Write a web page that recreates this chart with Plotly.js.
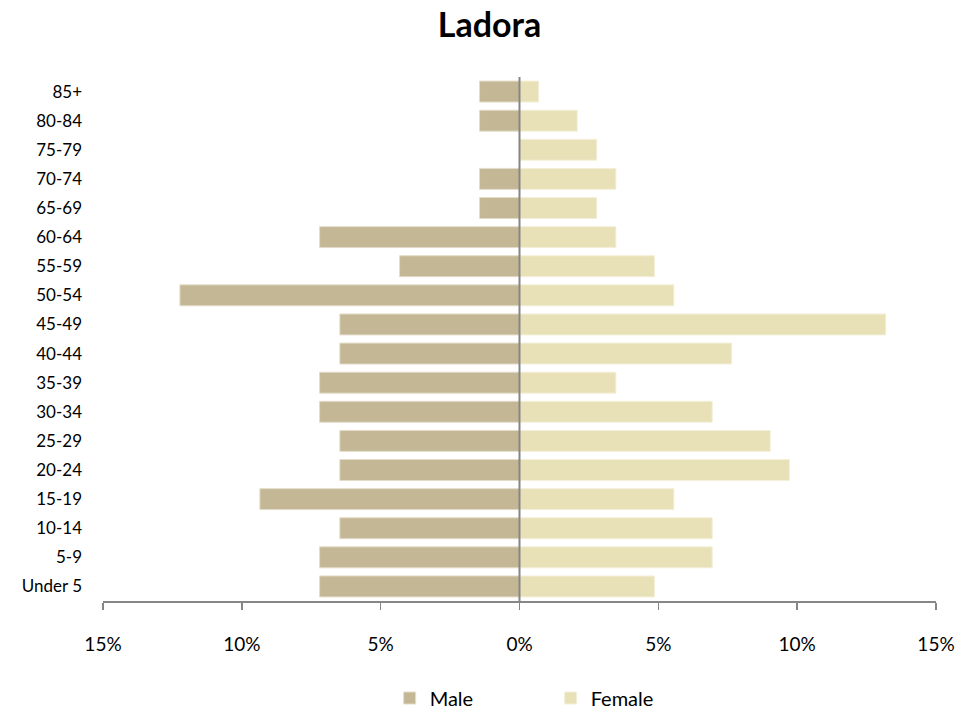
<!DOCTYPE html>
<html>
<head>
<meta charset="utf-8">
<script src="https://cdn.plot.ly/plotly-3.0.1.min.js"></script>
<style>html,body{margin:0;padding:0;background:#fff;}#chart{width:979px;height:713px;}</style>
</head>
<body>
<div id="chart"></div>
<script>
const ageGroups = ["Under 5","5-9","10-14","15-19","20-24","25-29","30-34","35-39","40-44","45-49","50-54","55-59","60-64","65-69","70-74","75-79","80-84","85+"];
const maleValues = [-7.2,-7.2,-6.47,-9.35,-6.47,-6.47,-7.2,-7.2,-6.47,-6.47,-12.23,-4.32,-7.2,-1.44,-1.44,0,-1.44,-1.44];
const femaleValues = [4.86,6.94,6.94,5.56,9.72,9.03,6.94,3.47,7.64,13.19,5.56,4.86,3.47,2.78,3.47,2.78,2.08,0.69];
const tickVals = [-15,-10,-5,0,5,10,15];
const tickText = ["15%","10%","5%","0%","5%","10%","15%"];

const font = "Lato, 'Open Sans', sans-serif";
const traces = [
  {type:'bar', orientation:'h', name:'Male', y:ageGroups, x:maleValues,
   marker:{color:'#C4B795', line:{color:'#E3DCC8', width:1}}, hoverinfo:'y+x'},
  {type:'bar', orientation:'h', name:'Female', y:ageGroups, x:femaleValues,
   marker:{color:'#E8E1B8', line:{color:'#F3EFD8', width:1}}, hoverinfo:'y+x'}
];
const layout = {
  width:979, height:713,
  paper_bgcolor:'#fff', plot_bgcolor:'#fff',
  margin:{l:103, r:43, t:77, b:112, autoexpand:false},
  barmode:'overlay', bargap:0.28,
  font:{family:font, color:'#000', size:17},
  title:{text:'<b>Ladora</b>', x:0.5, xanchor:'center', y:0.965, yanchor:'middle', font:{family:font, size:34, color:'#000'}},
  xaxis:{range:[-15,15], tickvals:tickVals, ticktext:tickText, showgrid:false,
    zeroline:false,
    showline:true, linecolor:'#868686', linewidth:2, ticks:'outside', tickcolor:'#868686', ticklen:7, tickwidth:1.5,
    ticklabelstandoff:18, tickfont:{size:19, family:font}, fixedrange:true},
  yaxis:{type:'category', categoryorder:'array', categoryarray:ageGroups, showgrid:false, zeroline:false,
    showline:false, ticks:'', ticklabelstandoff:20, tickfont:{size:17, family:font}, fixedrange:true},
  shapes:[{type:'line', xref:'x', yref:'paper', x0:0, x1:0, y0:0, y1:1, layer:'above', line:{color:'#868686', width:2}}],
  showlegend:true,
  legend:{orientation:'h', xref:'container', yref:'container', x:0.398, xanchor:'left', y:0.021, yanchor:'middle', font:{size:20, family:font}, traceorder:'normal', itemwidth:30, entrywidth:116, entrywidthmode:'pixels'},
};
Plotly.newPlot('chart', traces, layout, {displayModeBar:false, staticPlot:true});
</script>
</body>
</html>
